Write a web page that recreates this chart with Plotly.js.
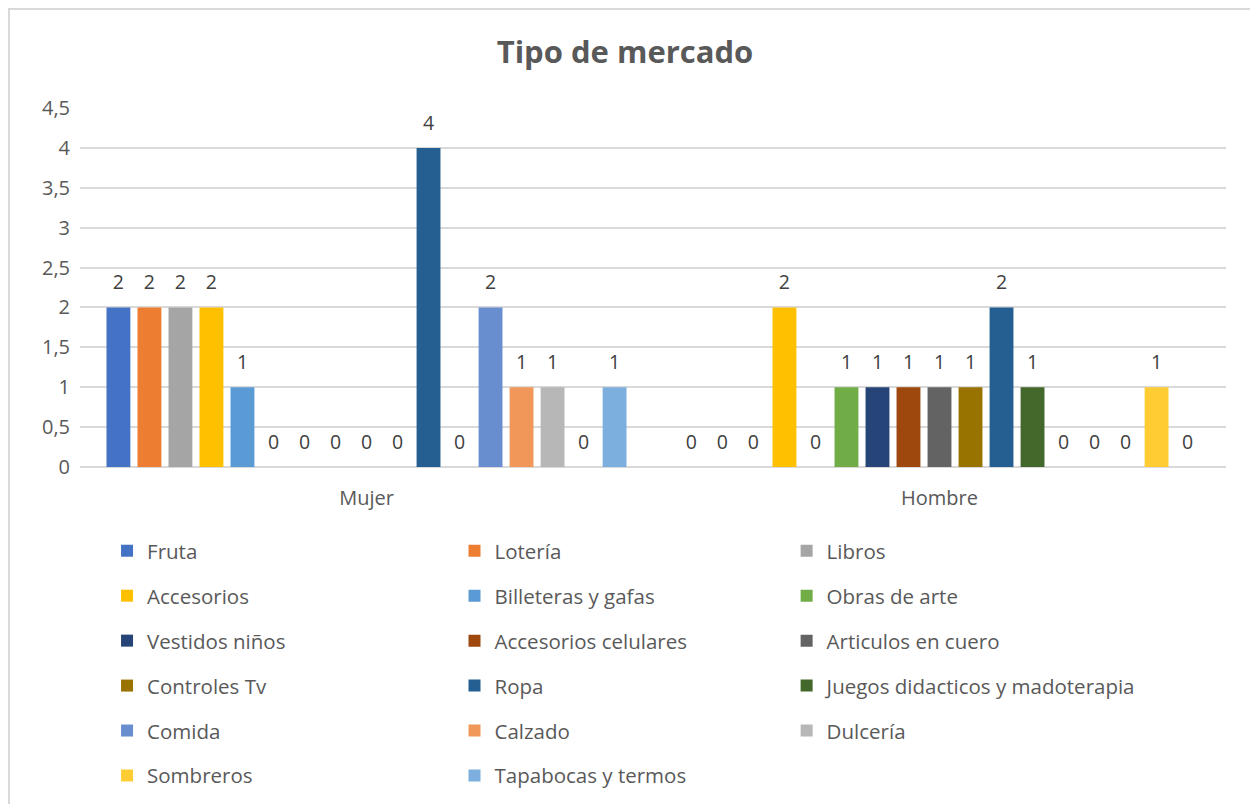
<!DOCTYPE html>
<html>
<head>
<meta charset="utf-8">
<script src="https://cdn.plot.ly/plotly-3.0.1.min.js"></script>
<style>
  body { margin: 0; background: #fff; }
  #frame { position: absolute; left: 8px; top: 8px; width: 1250px; height: 804px;
           border-left: 2px solid #d9d9d9; border-top: 2px solid #d9d9d9; pointer-events: none; }
</style>
</head>
<body>
<div id="chart" style="width:1250px;height:804px;"></div>
<div id="frame"></div>
<script>
// categories and series
var categorias = ["Mujer", "Hombre"];
var series = ["Fruta", "Lotería", "Libros", "Accesorios", "Billeteras y gafas", "Obras de arte",
  "Vestidos niños", "Accesorios celulares", "Articulos en cuero", "Controles Tv", "Ropa",
  "Juegos didacticos y madoterapia", "Comida", "Calzado", "Dulcería", "Sombreros", "Tapabocas y termos"];
var mujer  = [2, 2, 2, 2, 1, 0, 0, 0, 0, 0, 4, 0, 2, 1, 1, 0, 1];
var hombre = [0, 0, 0, 2, 0, 1, 1, 1, 1, 1, 2, 1, 0, 0, 0, 1, 0];
var colores = ["#4472C4", "#ED7D31", "#A5A5A5", "#FFC000", "#5B9BD5", "#70AD47",
  "#264478", "#9E480E", "#636363", "#997300", "#255E91", "#43682B",
  "#698ED0", "#F1975A", "#B7B7B7", "#FFCD33", "#7CAFDD"];

var font = "'Open Sans', sans-serif";
var legendas = ["legend", "legend2", "legend3"];

var data = series.map(function (nombre, i) {
  return {
    type: "bar",
    name: nombre,
    x: categorias,
    y: [mujer[i], hombre[i]],
    marker: {color: colores[i]},
    text: [mujer[i], hombre[i]].map(String),
    textposition: "outside",
    textfont: {family: font, size: 19.5, color: "#404040"},
    cliponaxis: false,
    legend: legendas[i % 3],
    legendgroup: "g" + i,
    hoverinfo: "name+y"
  };
});

function leyenda(x) {
  return {x: x, y: -0.178, xanchor: "left", yanchor: "top", orientation: "v",
    tracegroupgap: 15.3, font: {family: font, size: 20.5, color: "#595959"},
    bgcolor: "rgba(0,0,0,0)"};
}

var layout = {
  title: {text: "<b>Tipo de mercado</b>", x: 0.5, xanchor: "center", y: 0.935, yanchor: "middle",
    font: {family: font, size: 31, color: "#595959"}},
  separators: ",.",
  margin: {l: 80, r: 24, t: 108, b: 337, autoexpand: false},
  barmode: "group",
  bargap: 0.08,
  bargroupgap: 0.23,
  xaxis: {tickfont: {family: font, size: 20, color: "#595959"}, showline: false, ticks: "",
    ticklabelstandoff: 17},
  yaxis: {range: [0, 4.5], dtick: 0.5, gridcolor: "#d9d9d9", gridwidth: 2, zeroline: true,
    zerolinecolor: "#d9d9d9", zerolinewidth: 2,
    tickfont: {family: font, size: 20, color: "#595959"}, ticklabelstandoff: 9},
  legend: leyenda(0.0236),
  legend2: leyenda(0.3268),
  legend3: leyenda(0.6166),
  plot_bgcolor: "#fff",
  paper_bgcolor: "#fff"
};

Plotly.newPlot("chart", data, layout, {displayModeBar: false}).then(function (gd) {
  // lift the value labels a little, as in the original
  gd.querySelectorAll(".barlayer .point text").forEach(function (t) {
    t.setAttribute("transform", "translate(0,-9) " + (t.getAttribute("transform") || ""));
  });
});
</script>
</body>
</html>
